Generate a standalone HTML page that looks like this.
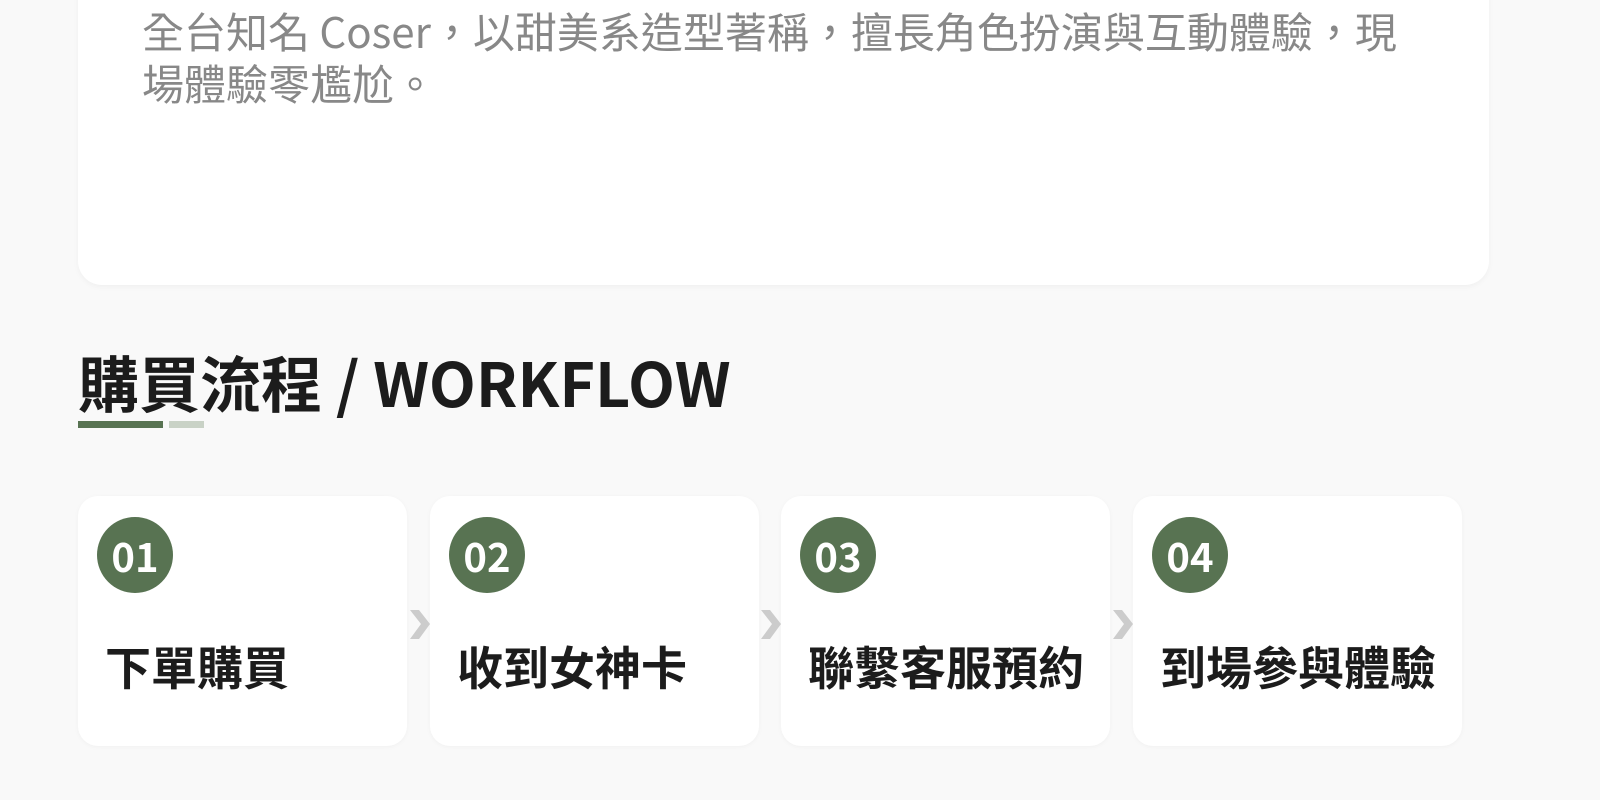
<!DOCTYPE html>
<html><head><meta charset="utf-8"><style>
*{margin:0;padding:0;box-sizing:border-box}
body{width:1600px;height:800px;background:#f9f9f9;position:relative;overflow:hidden;font-family:"Noto Sans CJK TC","Liberation Sans",sans-serif}
.top{position:absolute;left:78px;top:-40px;width:1411px;height:325px;background:#fff;border-radius:24px;box-shadow:0 2px 6px rgba(0,0,0,.04)}
.desc{position:absolute;left:142px;top:5px;width:1290px;font-size:42px;line-height:52px;color:#888;}
h2{position:absolute;left:78px;top:341px;font-size:61px;line-height:80px;font-weight:bold;color:#1c1c1c;white-space:nowrap}
.b1{position:absolute;left:78px;top:421px;width:85px;height:7px;background:#587352}
.b2{position:absolute;left:169px;top:421px;width:35px;height:7px;background:#c9d2c6}
.card{position:absolute;top:496px;width:329px;height:250px;background:#fff;border-radius:20px;box-shadow:0 1px 5px rgba(0,0,0,.04)}
.num{position:absolute;left:19px;top:21px;width:76px;height:76px;border-radius:50%;background:#587352;color:#fff;font-weight:bold;font-size:40px;line-height:76px;text-align:center}
.t{position:absolute;left:27px;top:138px;font-size:46px;line-height:64px;font-weight:bold;color:#1c1c1c;white-space:nowrap}
.ch{position:absolute;top:609px}
</style></head><body>
<div class="top"></div>
<div class="desc">全台知名 Coser，以甜美系造型著稱，擅長角色扮演與互動體驗，現場體驗零尷尬。</div>
<h2>購買流程 / WORKFLOW</h2>
<div class="b1"></div><div class="b2"></div>
<div class="card" style="left:78px"><div class="num">01</div><div class="t">下單購買</div></div>
<div class="card" style="left:430px"><div class="num">02</div><div class="t">收到女神卡</div></div>
<div class="card" style="left:781px"><div class="num">03</div><div class="t">聯繫客服預約</div></div>
<div class="card" style="left:1133px"><div class="num">04</div><div class="t">到場參與體驗</div></div>
<svg class="ch" style="left:408px" width="24" height="32"><polygon points="2,1 11,1 22,15 11,30 2,30 13,15" fill="#ccc"/></svg>
<svg class="ch" style="left:759px" width="24" height="32"><polygon points="2,1 11,1 22,15 11,30 2,30 13,15" fill="#ccc"/></svg>
<svg class="ch" style="left:1111px" width="24" height="32"><polygon points="2,1 11,1 22,15 11,30 2,30 13,15" fill="#ccc"/></svg>
</body></html>
